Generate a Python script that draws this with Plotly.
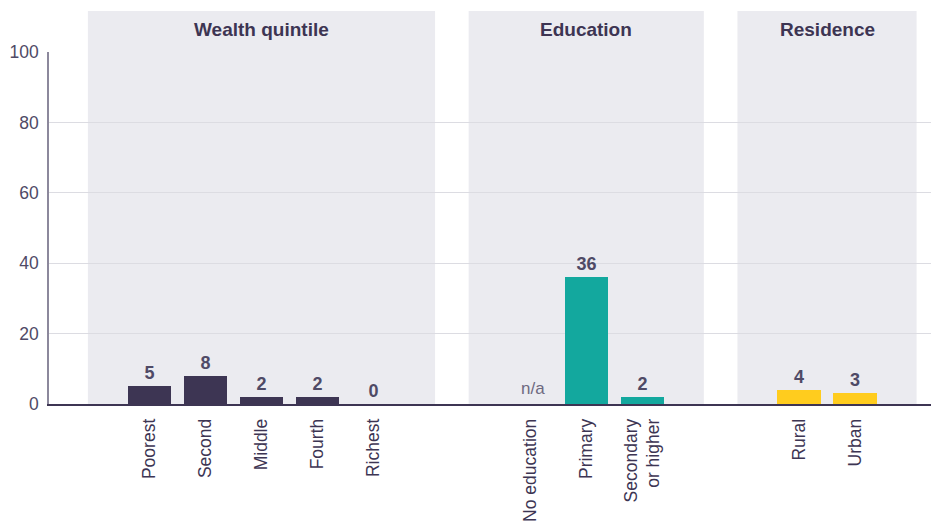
import plotly.graph_objects as go

# ---- data ----
groups = ["Wealth quintile", "Education", "Residence"]
wealth_cats = ["Poorest", "Second", "Middle", "Fourth", "Richest"]
wealth_vals = [5, 8, 2, 2, 0]
edu_cats = ["No education", "Primary", "Secondary<br>or higher"]
edu_vals = [None, 36, 2]
res_cats = ["Rural", "Urban"]
res_vals = [4, 3]
y_ticks = [0, 20, 40, 60, 80, 100]

group_data = [(wealth_cats, wealth_vals), (edu_cats, edu_vals), (res_cats, res_vals)]
colors = ["#3d3553", "#13a89e", "#ffcc1e"]

FONT = "Liberation Sans, Arial, sans-serif"
GAP = 2.8     # slots between last bar of a group and first of next
PAD = 1.1     # panel padding around bars

fig = go.Figure()
tickvals, ticktext = [], []
shapes, annotations = [], []
pos = 0.0
for gi, (cats, vals) in enumerate(group_data):
    xs = [pos + i for i in range(len(cats))]
    yv = [v if v is not None else 0 for v in vals]
    txt = [str(v) if v is not None else "" for v in vals]
    fig.add_trace(go.Bar(
        x=xs, y=yv, width=0.77, marker=dict(color=colors[gi], line=dict(width=0)),
        text=txt, textposition="outside", cliponaxis=False,
        textfont=dict(family=FONT, size=18, color="#4f4a66", weight="bold"),
        hoverinfo="skip", showlegend=False))
    for x, v in zip(xs, vals):
        if v is None:
            annotations.append(dict(x=x + 0.05, y=0, xref="x", yref="y", text="n/a",
                                    showarrow=False, yanchor="bottom", yshift=4,
                                    font=dict(family=FONT, size=17, color="#6d6980")))
    tickvals += xs
    ticktext += cats
    x0, x1 = xs[0] - PAD, xs[-1] + PAD
    shapes.append(dict(type="rect", xref="x", yref="paper", x0=x0, x1=x1, y0=0, y1=1.1165,
                       fillcolor="#ebebf0", line=dict(width=0), layer="below"))
    annotations.append(dict(x=(xs[0] + xs[-1]) / 2, y=1.065, xref="x", yref="paper",
                            yanchor="middle",
                            text="<b>" + groups[gi] + "</b>", showarrow=False,
                            font=dict(family=FONT, size=19, color="#3d3553")))
    pos = xs[-1] + GAP

fig.update_layout(
    width=931, height=513,
    margin=dict(l=41, r=0, t=44, b=117),
    paper_bgcolor="white", plot_bgcolor="rgba(0,0,0,0)",
    shapes=shapes, annotations=annotations,
    bargap=0,
    font=dict(family=FONT),
)
fig.update_xaxes(range=[-1.795, 14.1], tickvals=tickvals, ticktext=ticktext,
                 tickangle=-90, showgrid=False, zeroline=False, automargin=False,
                 showline=True, linecolor="#3d3553", linewidth=1.5,
                 ticks="", ticklabelstandoff=6,
                 tickfont=dict(family=FONT, size=17.5, color="#3d3553"))
fig.update_yaxes(range=[0, 100], tickvals=y_ticks, showgrid=True, gridcolor="#dcdce2",
                 gridwidth=1, zeroline=False, showline=True, linecolor="#8c889c",
                 linewidth=1.5, ticks="", ticklabelstandoff=5, automargin=False,
                 tickfont=dict(family=FONT, size=17.5, color="#4f4a66"))

fig.write_html("out.html")
